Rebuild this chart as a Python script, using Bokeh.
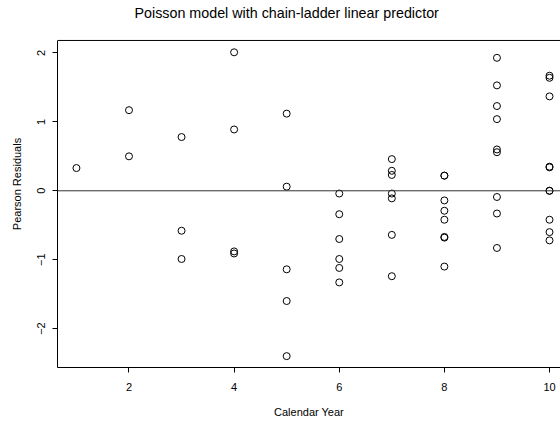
from bokeh.plotting import figure
from bokeh.models import Range1d, FixedTicker, Span, Label
from bokeh.embed import file_html
from bokeh.resources import INLINE

# Calendar year per cell and its Pearson residual
year_1 = [0.33]
year_2 = [1.17, 0.50]
year_3 = [0.78, -0.58, -0.99]
year_4 = [2.01, 0.89, -0.88, -0.91]
year_5 = [1.12, 0.06, -1.14, -1.60, -2.40]
year_6 = [-0.04, -0.34, -0.70, -0.99, -1.12, -1.33]
year_7 = [0.46, 0.29, 0.23, -0.04, -0.11, -0.64, -1.24]
year_8 = [0.22, 0.22, -0.14, -0.29, -0.42, -0.67, -0.68, -1.10]
year_9 = [1.93, 1.53, 1.23, 1.04, 0.60, 0.56, -0.09, -0.33, -0.83]
year_10 = [1.67, 1.64, 1.37, 0.35, 0.34, 0.0, 0.0, -0.42, -0.60, -0.72]

residuals_by_year = [year_1, year_2, year_3, year_4, year_5,
                     year_6, year_7, year_8, year_9, year_10]
x_ticks = [2, 4, 6, 8, 10]
y_ticks = [-2, -1, 0, 1, 2]
title_text = "Poisson model with chain-ladder linear predictor"

xs, ys = [], []
for i, vals in enumerate(residuals_by_year, start=1):
    xs += [i] * len(vals)
    ys += vals

FONT = "Liberation Sans"
Y_BOT, Y_TOP = -2.565, 2.182   # plot box limits
Y_CANVAS_TOP = 2.762           # blank room above the box for the title

p = figure(width=560, height=421, output_backend="svg", toolbar_location=None,
           x_range=Range1d(0.64, 10.209), y_range=Range1d(Y_BOT, Y_CANVAS_TOP),
           min_border_left=57, min_border_right=0, min_border_top=0,
           min_border_bottom=54, title=None)
p.background_fill_color = "white"
p.border_fill_color = "white"
p.outline_line_color = None
p.xgrid.visible = False
p.ygrid.visible = False

p.add_layout(Label(x=77, y=355, x_units="screen", y_units="screen",
                   text=title_text, text_font=FONT, text_font_size="14.3px",
                   text_color="black", text_align="left",
                   text_baseline="alphabetic"))

# top border of the box
p.add_layout(Span(location=Y_TOP, dimension="width", line_color="black",
                  line_width=1))

xax = p.below[0]
yax = p.left[0]
for ax in (xax, yax):
    ax.axis_line_color = "black"
    ax.axis_line_width = 1
    ax.major_tick_line_color = "black"
    ax.major_tick_out = 5
    ax.major_tick_in = 0
    ax.minor_tick_line_color = None
    ax.major_label_text_font = FONT
    ax.major_label_text_font_size = "11px"
    ax.major_label_text_color = "black"
    ax.axis_label_text_font = FONT
    ax.axis_label_text_font_size = "11px"
    ax.axis_label_text_font_style = "normal"
    ax.axis_label_text_color = "black"

yax.bounds = (Y_BOT, Y_TOP)
xax.ticker = FixedTicker(ticks=x_ticks)
yax.ticker = FixedTicker(ticks=y_ticks)
xax.axis_label = "Calendar Year"
yax.axis_label = "Pearson Residuals"
xax.major_label_standoff = 10
xax.axis_label_standoff = 12
yax.major_label_orientation = "vertical"
yax.major_label_standoff = 7
yax.axis_label_standoff = 12

p.add_layout(Span(location=0, dimension="width", line_color="#333333", line_width=1))

p.scatter(xs, ys, marker="circle", size=7, fill_color=None,
          line_color="black", line_width=1)

open("out.html", "w").write(file_html(p, INLINE))
